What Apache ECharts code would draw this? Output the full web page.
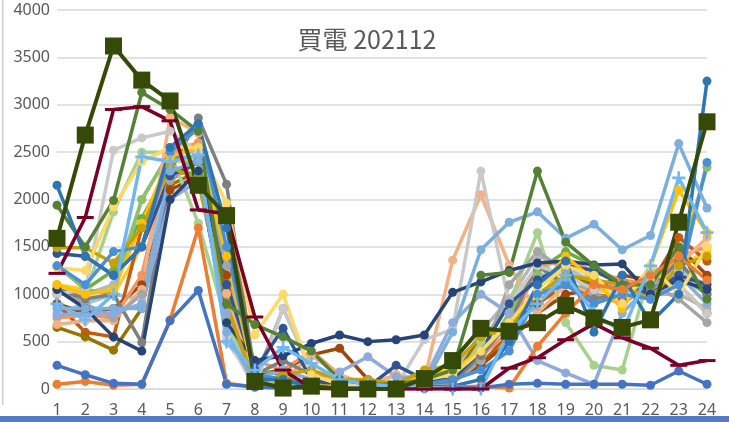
<!DOCTYPE html>
<html><head><meta charset="utf-8">
<script src="https://cdn.jsdelivr.net/npm/echarts@6/dist/echarts.min.js"></script>
<style>html,body{margin:0;padding:0;background:#fff}#c{width:729px;height:422px}</style>
</head><body><div id="c"></div>
<script>
const hours = ['1','2','3','4','5','6','7','8','9','10','11','12','13','14','15','16','17','18','19','20','21','22','23','24'];
const yTicks = [0,500,1000,1500,2000,2500,3000,3500,4000];
const titleText = '買電 202112';

const sA = [250,150,60,50,720,1040,50,20,10,10,5,5,5,5,10,10,50,60,50,50,50,40,190,50];
const sB = [50,80,40,50,730,1700,60,20,10,5,5,5,5,5,20,30,10,450,800,1100,1050,1200,1400,1150];
const sC = [1050,900,750,1000,2200,2450,1300,100,850,200,60,20,20,50,60,300,1100,1450,1250,1000,900,1100,950,700];
const sD = [1100,1000,1050,1750,2450,2550,1400,100,50,30,30,20,20,150,200,400,700,1050,1400,1150,850,1300,2100,1650];
const sE = [2150,1400,1200,1500,2550,2800,1700,100,100,20,10,10,10,20,30,100,500,1100,1350,600,1200,700,1000,3250];
const sF = [1000,1050,1250,1800,2350,2250,900,200,150,50,20,10,10,30,80,300,800,1250,1450,1300,1100,1050,1200,1000];
const sG = [1050,850,550,400,2000,2300,700,300,350,480,570,500,520,570,1020,1130,1250,1330,1350,1310,1320,1000,1150,1050];
const sH = [900,800,850,1100,2100,2250,1200,150,200,360,430,100,50,80,100,250,500,800,1000,1050,1200,1150,1500,1200];
const sI = [1060,950,1000,490,2300,2860,2160,150,300,150,50,20,20,60,80,350,700,1300,1100,950,1000,1050,1350,1000];
const sJ = [650,550,410,850,2150,2300,900,100,100,50,30,20,20,50,100,550,650,900,1200,1100,1050,950,1100,800];
const sK = [1430,1400,1200,1500,2250,2400,1100,200,640,100,30,20,250,100,100,400,900,1150,1300,1250,1100,1000,1200,1100];
const sL = [1940,1500,1990,3130,2950,2720,900,680,550,400,100,50,50,100,200,1200,1230,2300,1550,1300,1100,1100,1500,950];
const sM = [780,800,800,900,2000,2200,800,100,200,100,180,340,130,100,700,1000,800,300,170,50,800,1100,1200,900];
const sN = [750,780,750,1200,2500,2600,1000,300,200,400,150,40,150,80,100,350,600,1300,1350,1250,1150,1100,1400,1500];
const sO = [1000,1000,1100,2000,2500,2500,800,100,50,20,10,10,10,30,100,600,950,1400,1300,1100,1000,1000,1000,850];
const sP = [1100,1050,1000,1500,2400,2400,1200,150,100,50,20,10,10,100,150,300,500,950,1300,1200,950,1000,1300,1450];
const sQ = [850,850,850,850,2300,2400,600,50,50,20,10,10,10,50,600,1470,1760,1870,1590,1740,1470,1620,2590,1910];
const sR = [1300,1050,1000,2000,2500,2300,700,100,50,20,10,10,10,50,100,300,800,1200,1100,1050,1000,1200,1300,2340];
const sS = [1000,1050,2520,2650,2720,2500,550,20,850,200,50,20,30,520,630,2300,900,1300,1200,1050,1000,1000,1100,800];
const sT = [680,720,720,1050,2870,2700,1010,100,100,350,150,40,150,100,1360,2050,1310,800,1100,1000,900,1150,1300,1600];
const sU = [1280,1250,1920,2400,2550,2550,1960,570,1000,150,50,20,20,100,150,400,700,1050,1300,1200,900,1300,1000,1500];
const sV = [800,900,1000,950,2450,2450,500,100,100,50,20,10,10,50,200,500,900,1200,1250,1150,1050,1000,1250,1100];
const sW = [1100,1000,1870,2500,2500,1750,700,100,50,20,10,10,10,30,50,500,900,1650,700,250,200,1250,1300,1050];
const sY = [1300,1100,1450,1500,2500,2750,1500,150,100,30,10,10,10,50,100,200,400,1000,1100,900,1000,950,1100,2390];
const sZ = [900,600,550,1700,2200,2400,1100,100,100,80,30,10,10,30,100,250,600,900,1100,1000,950,1100,1600,1350];
const sGold = [1490,1490,1330,1700,2350,2200,900,50,150,200,100,100,50,200,250,550,650,1000,1200,1150,1100,950,1300,1400];
const sSky = [900,730,1000,2450,2400,2470,500,200,440,270,100,50,30,20,0,0,600,900,1200,800,600,1300,2230,1650];
const sMaroon = [1220,1810,2950,2980,2830,1890,1850,760,200,10,0,0,0,0,0,0,220,330,520,690,540,430,250,300];
const sOlive = [1590,2680,3620,3260,3040,2150,1830,80,10,30,0,0,0,110,300,640,610,700,880,750,650,730,1760,2820];

const plain = [
  [sO,'#B7B7B7'],[sV,'#9DC3E6'],[sP,'#FFCD33'],[sZ,'#C55A11'],[sJ,'#997300'],[sH,'#9E480E'],
  [sF,'#70AD47'],[sR,'#8CC168'],[sW,'#A9D18E'],[sN,'#F1975A'],[sT,'#F4B183'],[sC,'#A5A5A5'],
  [sI,'#7F7F7F'],[sS,'#C9C9C9'],[sM,'#8FAADC'],[sK,'#2F5597'],[sG,'#264478'],[sD,'#FFC000'],
  [sGold,'#C9A000'],[sU,'#FFD966'],[sY,'#4A90D9'],[sQ,'#7CAFDD'],[sL,'#548235'],[sE,'#2E75B6'],
  [sB,'#ED7D31'],[sA,'#4472C4']
];

const series = plain.map(([d,c]) => ({
  type:'line', data:d, symbol:'circle', symbolSize:9, showSymbol:true,
  lineStyle:{width:3.5,color:c}, itemStyle:{color:c}
}));
series.push({type:'line', data:sSky, symbol:'path://M4,0H6V4H10V6H6V10H4V6H0V4H4Z', symbolSize:13,
  lineStyle:{width:3.5,color:'#6FB8F5'}, itemStyle:{color:'#6FB8F5'}});
series.push({type:'line', data:sMaroon, symbol:'rect', symbolSize:[17,3],
  lineStyle:{width:3.5,color:'#7B0028'}, itemStyle:{color:'#7B0028'}});
series.push({type:'line', data:sOlive, symbol:'rect', symbolSize:17,
  lineStyle:{width:4,color:'#354A07'}, itemStyle:{color:'#354A07'}});

const chart = echarts.init(document.getElementById('c'));
chart.setOption({
  animation:false,
  backgroundColor:'#fff',
  title:{text:titleText, left:362, top:22, textAlign:'center',
    textStyle:{fontFamily:'"Noto Sans CJK TC","Noto Sans",sans-serif', fontSize:25, fontWeight:'normal', color:'#595959'}},
  grid:{left:57, right:22, top:10, bottom:33},
  xAxis:{type:'category', data:hours, boundaryGap:false,
    axisLine:{lineStyle:{color:'#d9d9d9'}}, axisTick:{show:false},
    axisLabel:{color:'#595959', fontSize:16, margin:13, fontFamily:'"Noto Sans",sans-serif', interval:0}},
  yAxis:{type:'value', min:yTicks[0], max:yTicks[yTicks.length-1], interval:500,
    axisLine:{show:false}, axisTick:{show:false},
    splitLine:{lineStyle:{color:'#d9d9d9', width:1.5}},
    axisLabel:{color:'#595959', fontSize:16, margin:7, fontFamily:'"Noto Sans",sans-serif',
      formatter: v => String(v)}},
  graphic:[
    {type:'rect', left:2, top:0, shape:{width:1.5, height:405}, style:{fill:'#d0d0d0'}, silent:true},
    {type:'rect', left:0, top:416, shape:{width:729, height:6}, style:{fill:'#4F7BC8'}, silent:true}
  ],
  series: series
});
</script>
</body></html>
